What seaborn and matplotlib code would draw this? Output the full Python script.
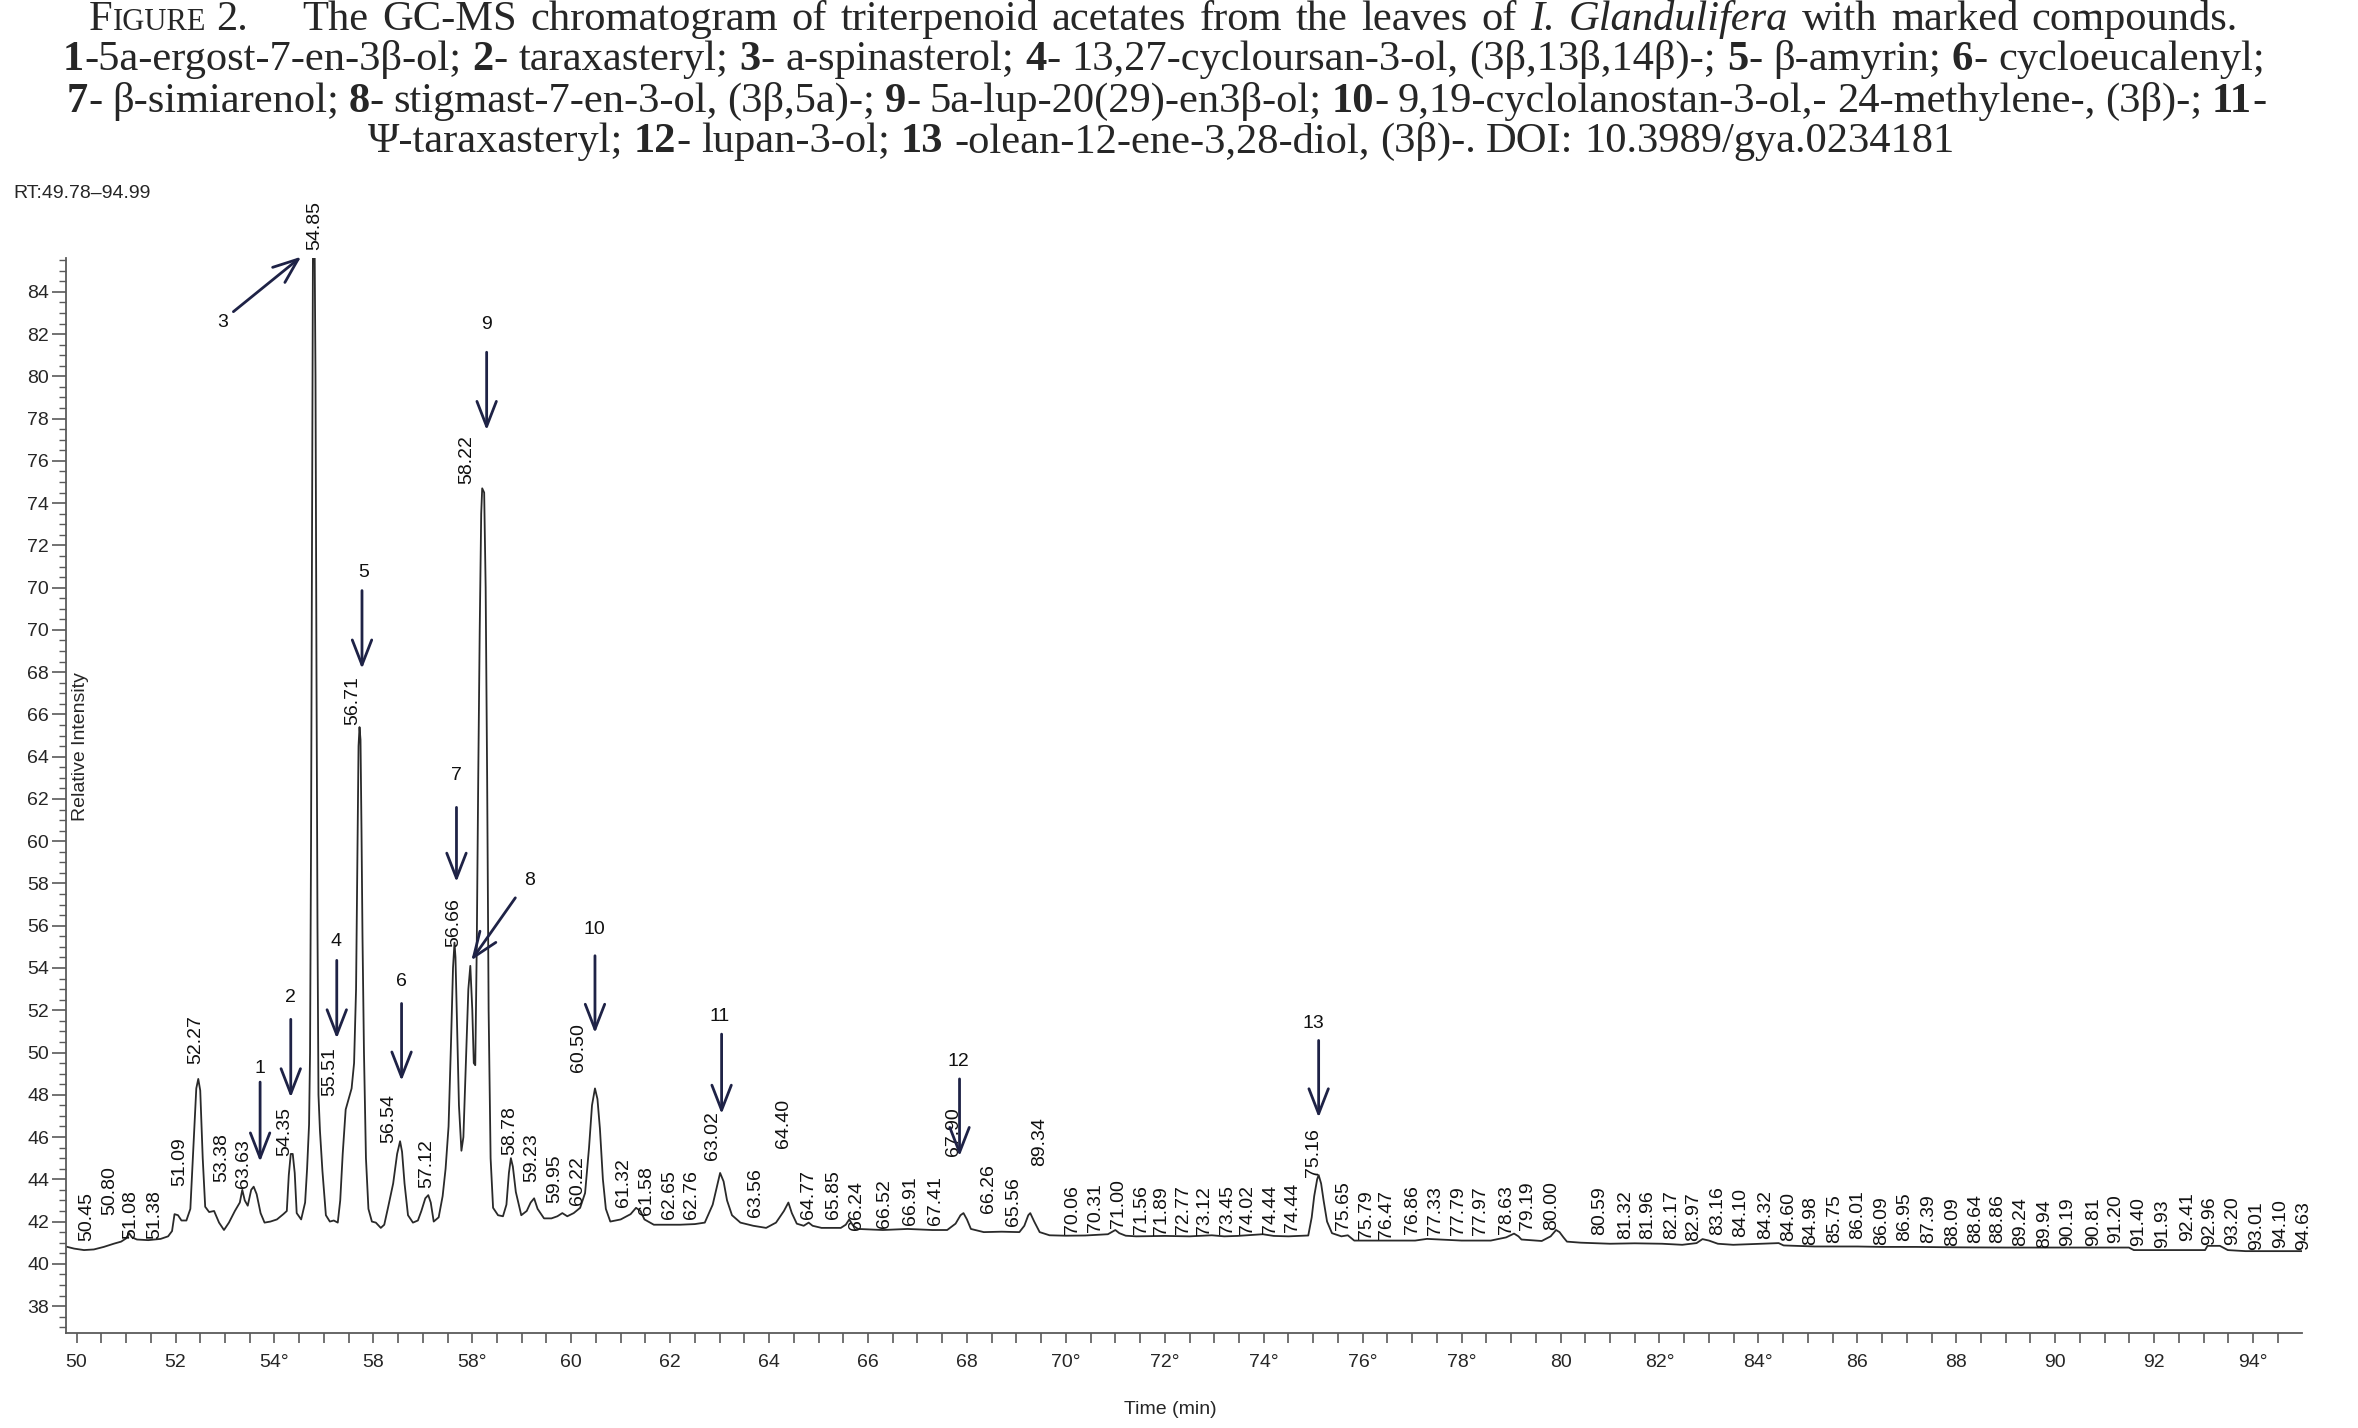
import re

import numpy as np
import pandas as pd
import seaborn as sns
import matplotlib.pyplot as plt
from matplotlib.ticker import MultipleLocator
from matplotlib.transforms import IdentityTransform

# chromatogram trace (x in axis minutes, y in axis units)
rt = [49.78, 49.95, 50.15, 50.35, 50.55, 50.75, 50.90, 51.00, 51.06, 51.12, 51.22, 51.45, 51.70,
      51.85, 51.93, 51.98, 52.05, 52.12, 52.22, 52.30, 52.36, 52.42, 52.46, 52.50, 52.55, 52.60,
      52.68, 52.78, 52.88, 52.98, 53.08, 53.20, 53.30, 53.35, 53.40, 53.46, 53.53, 53.58, 53.64,
      53.72, 53.80, 53.92, 54.05, 54.18, 54.25, 54.29, 54.33, 54.37, 54.41, 54.45, 54.54, 54.62,
      54.66, 54.70, 54.72, 54.74, 54.76, 54.78, 54.81, 54.83, 54.85, 54.87, 54.89, 54.92, 54.97,
      55.04, 55.12, 55.20, 55.28, 55.33, 55.38, 55.44, 55.50, 55.56, 55.61, 55.65, 55.68, 55.70,
      55.72, 55.74, 55.76, 55.78, 55.81, 55.85, 55.90, 55.97, 56.05, 56.15, 56.22, 56.30, 56.40,
      56.48, 56.54, 56.58, 56.63, 56.70, 56.80, 56.90, 56.97, 57.05, 57.11, 57.16, 57.22, 57.32,
      57.40, 57.46, 57.52, 57.57, 57.61, 57.64, 57.66, 57.69, 57.73, 57.78, 57.82, 57.87, 57.92,
      57.96, 58.00, 58.03, 58.06, 58.09, 58.12, 58.15, 58.18, 58.20, 58.24, 58.27, 58.30, 58.33,
      58.37, 58.42, 58.52, 58.62, 58.69, 58.74, 58.78, 58.82, 58.88, 58.99, 59.10, 59.18, 59.25,
      59.32, 59.45, 59.60, 59.72, 59.82, 59.92, 60.05, 60.18, 60.28, 60.36, 60.42, 60.48, 60.53,
      60.58, 60.64, 60.70, 60.79, 61.00, 61.20, 61.31, 61.40, 61.48, 61.67, 61.90, 62.20, 62.50,
      62.70, 62.86, 62.95, 63.01, 63.08, 63.15, 63.25, 63.42, 63.68, 63.94, 64.14, 64.30, 64.39,
      64.46, 64.56, 64.70, 64.80, 64.88, 65.06, 65.45, 65.55, 65.62, 65.70, 65.80, 66.30, 66.80,
      67.30, 67.60, 67.77, 67.87, 67.93, 68.00, 68.08, 68.34, 68.70, 69.06, 69.16, 69.24, 69.28,
      69.36, 69.47, 69.67, 70.00, 70.39, 70.85, 71.00, 71.08, 71.21, 71.42, 72.00, 72.50, 72.95,
      73.20, 73.47, 73.98, 74.20, 74.50, 74.90, 74.97, 75.02, 75.08, 75.11, 75.16, 75.21, 75.28,
      75.38, 75.57, 75.70, 75.83, 76.40, 77.06, 77.30, 77.57, 78.00, 78.59, 78.90, 79.06, 79.15,
      79.21, 79.62, 79.80, 79.91, 79.98, 80.06, 80.13, 80.41, 81.00, 81.50, 82.05, 82.46, 82.75,
      82.87, 83.00, 83.18, 83.49, 84.10, 84.41, 84.51, 85.13, 86.00, 86.50, 87.18, 88.00, 89.00,
      90.00, 91.00, 91.49, 91.59, 92.30, 93.03, 93.08, 93.33, 93.49, 93.85, 94.99]
intensity = [40.82, 40.72, 40.65, 40.68, 40.80, 40.95, 41.05, 41.20, 41.45, 41.25, 41.15, 41.12, 41.18,
             41.30, 41.55, 42.35, 42.30, 42.05, 42.05, 42.60, 45.50, 48.30, 48.75, 48.20, 45.00, 42.70,
             42.45, 42.50, 41.95, 41.60, 41.95, 42.50, 42.90, 43.50, 43.00, 42.75, 43.50, 43.65, 43.30,
             42.40, 41.95, 42.00, 42.10, 42.35, 42.50, 44.20, 45.20, 45.20, 44.30, 42.40, 42.10, 42.90,
             44.50, 46.60, 50.00, 60.00, 75.00, 89.00, 89.00, 82.00, 68.00, 56.00, 48.00, 46.30, 44.40,
             42.30, 42.00, 42.05, 41.95, 43.00, 45.20, 47.30, 47.80, 48.30, 49.50, 53.00, 60.00, 64.50,
             65.40, 64.80, 60.50, 55.50, 50.00, 45.00, 42.60, 42.00, 41.95, 41.70, 41.85, 42.70, 43.80,
             45.20, 45.80, 45.30, 43.80, 42.30, 41.95, 42.05, 42.50, 43.10, 43.25, 42.90, 42.00, 42.20,
             43.20, 44.50, 46.50, 50.50, 54.00, 55.20, 54.50, 51.50, 47.50, 45.35, 46.00, 49.50, 53.00,
             54.10, 52.00, 49.50, 49.40, 55.00, 63.00, 70.00, 75.50, 76.70, 76.50, 72.00, 63.00, 52.00,
             45.00, 42.65, 42.30, 42.25, 42.80, 44.30, 45.00, 44.60, 43.40, 42.30, 42.50, 42.90, 43.10,
             42.60, 42.15, 42.15, 42.25, 42.40, 42.25, 42.40, 42.65, 43.35, 45.50, 47.50, 48.30, 47.80,
             46.40, 44.00, 42.60, 42.00, 42.10, 42.35, 42.65, 42.50, 42.10, 41.85, 41.85, 41.85, 41.88,
             41.95, 42.80, 43.70, 44.30, 43.90, 43.00, 42.30, 41.95, 41.80, 41.70, 41.95, 42.50, 42.90,
             42.40, 41.90, 41.80, 41.95, 41.80, 41.70, 41.70, 41.85, 42.10, 41.80, 41.65, 41.60, 41.65,
             41.60, 41.60, 41.90, 42.30, 42.40, 42.10, 41.65, 41.50, 41.52, 41.50, 41.80, 42.30, 42.40,
             42.00, 41.50, 41.35, 41.33, 41.34, 41.40, 41.60, 41.45, 41.33, 41.30, 41.32, 41.30, 41.35,
             41.30, 41.32, 41.40, 41.32, 41.30, 41.34, 42.20, 43.20, 44.00, 44.20, 43.80, 43.00, 42.00,
             41.45, 41.30, 41.35, 41.10, 41.10, 41.10, 41.18, 41.15, 41.10, 41.10, 41.25, 41.43, 41.30,
             41.15, 41.08, 41.30, 41.60, 41.50, 41.25, 41.05, 41.00, 40.95, 40.97, 40.95, 40.90, 40.98,
             41.17, 41.10, 40.95, 40.90, 40.95, 40.98, 40.87, 40.82, 40.82, 40.80, 40.80, 40.78, 40.77,
             40.77, 40.77, 40.77, 40.65, 40.65, 40.65, 40.85, 40.85, 40.65, 40.60, 40.60]

# retention-time labels printed above the peaks
peak_text = ["50.45", "50.80", "51.08", "51.38", "51.09", "52.27", "53.38", "63.63", "54.35", "54.85",
             "55.51", "56.71", "56.54", "57.12", "56.66", "58.22", "58.78", "59.23", "59.95", "60.22",
             "60.50", "61.32", "61.58", "62.65", "62.76", "63.02", "63.56", "64.40", "64.77", "65.85",
             "66.24", "66.52", "66.91", "67.41", "67.90", "66.26", "65.56", "89.34", "70.06", "70.31",
             "71.00", "71.56", "71.89", "72.77", "73.12", "73.45", "74.02", "74.44", "74.44", "75.16",
             "75.65", "75.79", "76.47", "76.86", "77.33", "77.79", "77.97", "78.63", "79.19", "80.00",
             "80.59", "81.32", "81.96", "82.17", "82.97", "83.16", "84.10", "84.32", "84.60", "84.98",
             "85.75", "86.01", "86.09", "86.95", "87.39", "88.09", "88.64", "88.86", "89.24", "89.94",
             "90.19", "90.81", "91.20", "91.40", "91.93", "92.41", "92.96", "93.20", "93.01", "94.10",
             "94.63"]
peak_x = [50.21, 50.67, 51.10, 51.57, 52.08, 52.41, 52.93, 53.37, 54.20, 54.82,
          55.12, 55.58, 56.31, 57.08, 57.63, 57.89, 58.75, 59.20, 59.66, 60.12,
          60.14, 61.05, 61.52, 61.98, 62.44, 62.86, 63.73, 64.30, 64.80, 65.31,
          65.77, 66.34, 66.85, 67.36, 67.72, 68.44, 68.95, 69.47, 70.13, 70.59,
          71.06, 71.52, 71.93, 72.37, 72.80, 73.26, 73.67, 74.13, 74.59, 75.01,
          75.62, 76.08, 76.49, 77.01, 77.47, 77.93, 78.39, 78.90, 79.33, 79.83,
          80.80, 81.31, 81.76, 82.24, 82.69, 83.18, 83.64, 84.15, 84.62, 85.06,
          85.54, 86.00, 86.49, 86.95, 87.44, 87.92, 88.39, 88.84, 89.30, 89.79,
          90.26, 90.77, 91.23, 91.69, 92.17, 92.67, 93.13, 93.59, 94.07, 94.56,
          95.03]
peak_y = [41.08, 42.30, 41.17, 41.17, 43.70, 49.44, 43.87, 43.60, 45.10, 88.00,
          47.96, 65.50, 45.70, 43.60, 55.00, 76.90, 45.17, 43.87, 42.90, 42.80,
          49.10, 42.70, 42.30, 42.10, 42.10, 44.90, 42.20, 45.50, 42.10, 42.10,
          41.60, 41.69, 41.86, 41.86, 45.10, 42.40, 41.78, 44.65, 41.43, 41.50,
          41.69, 41.43, 41.34, 41.43, 41.34, 41.43, 41.43, 41.43, 41.50, 44.13,
          41.60, 41.17, 41.17, 41.43, 41.34, 41.34, 41.34, 41.43, 41.60, 41.60,
          41.34, 41.17, 41.17, 41.17, 41.08, 41.34, 41.25, 41.17, 41.08, 40.90,
          41.00, 41.17, 40.90, 41.08, 41.00, 40.82, 41.00, 41.00, 40.82, 40.73,
          40.82, 40.82, 41.00, 40.82, 40.73, 41.08, 40.90, 40.90, 40.64, 40.73,
          40.64]

# marked compounds: number position, arrow tail and arrow tip
cmp_id = ["1", "2", "3", "4", "5", "6", "7", "8", "9", "10", "11", "12", "13"]
cmp_x = [53.70, 54.32, 52.95, 55.25, 55.80, 56.57, 57.68, 59.16, 58.28, 60.46, 63.01, 67.83, 75.00]
cmp_y = [49.23, 52.58, 84.54, 55.23, 72.74, 53.36, 63.10, 58.15, 84.45, 55.84, 51.71, 49.58, 51.39]
tail_x = [53.71, 54.33, 53.17, 55.26, 55.77, 56.57, 57.68, 58.87, 58.29, 60.48, 63.04, 67.85, 75.11]
tail_y = [48.60, 51.57, 85.06, 54.36, 71.86, 52.32, 61.60, 57.32, 83.14, 54.58, 50.87, 48.75, 50.57]
tip_x = [53.71, 54.33, 54.54, 55.26, 55.77, 56.57, 57.68, 57.98, 58.29, 60.48, 63.04, 67.85, 75.11]
tip_y = [44.83, 47.87, 87.66, 50.66, 68.16, 48.66, 58.07, 54.36, 79.45, 50.92, 47.09, 45.09, 46.92]

x_tick_labels = ["50", "52", "54°", "58", "58°", "60", "62", "64", "66", "68", "70°", "72°",
                 "74°", "76°", "78°", "80", "82°", "84°", "86", "88", "90", "92", "94°"]
y_tick_labels = ["38", "40", "42", "44", "46", "48", "50", "52", "54", "56", "58", "60", "62",
                 "64", "66", "68", "70", "70", "72", "74", "76", "78", "80", "82", "84"]

caption = [
    [("F", "normal", "normal", 1.0), ("IGURE", "normal", "normal", 0.72),
     (" 2.      The GC-MS chromatogram of triterpenoid acetates from the leaves of ", "normal", "normal", 1.0),
     ("I. Glandulifera", "normal", "italic", 1.0), (" with marked compounds.", "normal", "normal", 1.0)],
    [("1", "bold", "normal", 1.0), ("-5a-ergost-7-en-3β-ol; ", "normal", "normal", 1.0),
     ("2", "bold", "normal", 1.0), ("- taraxasteryl; ", "normal", "normal", 1.0),
     ("3", "bold", "normal", 1.0), ("- a-spinasterol; ", "normal", "normal", 1.0),
     ("4", "bold", "normal", 1.0), ("- 13,27-cycloursan-3-ol, (3β,13β,14β)-; ", "normal", "normal", 1.0),
     ("5", "bold", "normal", 1.0), ("- β-amyrin; ", "normal", "normal", 1.0),
     ("6", "bold", "normal", 1.0), ("- cycloeucalenyl;", "normal", "normal", 1.0)],
    [("7", "bold", "normal", 1.0), ("- β-simiarenol; ", "normal", "normal", 1.0),
     ("8", "bold", "normal", 1.0), ("- stigmast-7-en-3-ol, (3β,5a)-; ", "normal", "normal", 1.0),
     ("9", "bold", "normal", 1.0), ("- 5a-lup-20(29)-en3β-ol; ", "normal", "normal", 1.0),
     ("10", "bold", "normal", 1.0), ("- 9,19-cyclolanostan-3-ol,- 24-methylene-, (3β)-; ", "normal", "normal", 1.0),
     ("11", "bold", "normal", 1.0), ("-", "normal", "normal", 1.0)],
    [("Ψ-taraxasteryl; ", "normal", "normal", 1.0), ("12", "bold", "normal", 1.0),
     ("- lupan-3-ol; ", "normal", "normal", 1.0), ("13", "bold", "normal", 1.0),
     (" -olean-12-ene-3,28-diol, (3β)-. DOI: 10.3989/gya.0234181", "normal", "normal", 1.0)],
]
# left edge, right edge (None = natural spacing), baseline from top, in pixels
caption_box = [(89, 2238, 30), (63, 2265, 70), (67, 2266, 112), (368, None, 152)]
heading_text_start = 302

sns.set_style("ticks")
plt.rcParams["font.family"] = ["Liberation Sans", "DejaVu Sans"]

W, H = 2358, 1428
fig = plt.figure(figsize=(W / 100, H / 100), dpi=100)
ax = fig.add_axes([65.7 / W, (H - 1332.7) / H, (2302 - 65.7) / W, (1332.7 - 258) / H])

trace = pd.DataFrame({"rt": rt, "intensity": intensity})
sns.lineplot(data=trace, x="rt", y="intensity", sort=False, estimator=None,
             color="#2a2a2a", linewidth=1.3, ax=ax)

ax.set_xlim(49.78, 94.99)
ax.set_ylim(36.74, 87.6)
ax.set_xlabel("")
ax.set_ylabel("")
sns.despine(ax=ax)
for side in ["left", "bottom"]:
    ax.spines[side].set_color("#5a5a5a")
    ax.spines[side].set_linewidth(1.3)

ax.set_xticks(np.arange(50, 95, 2))
ax.set_xticklabels(x_tick_labels)
ax.xaxis.set_minor_locator(MultipleLocator(0.5))
ax.set_yticks(np.arange(38, 87, 2))
ax.set_yticklabels(y_tick_labels)
ax.yaxis.set_minor_locator(MultipleLocator(0.5))
ax.tick_params(axis="x", which="both", direction="out", length=7, width=1.2,
               color="#5a5a5a", pad=8, labelsize=14)
ax.tick_params(axis="y", which="major", direction="out", length=10, width=1.2,
               color="#5a5a5a", pad=2, labelsize=14)
ax.tick_params(axis="y", which="minor", direction="out", length=5, width=1.0, color="#5a5a5a")

for s, x, y in zip(peak_text, peak_x, peak_y):
    ax.text(x, y, s, rotation=90, ha="center", va="bottom", fontsize=14,
            color="#111111", clip_on=False)

navy = "#1e2246"
for s, x, y, x0, y0, x1, y1 in zip(cmp_id, cmp_x, cmp_y, tail_x, tail_y, tip_x, tip_y):
    ax.text(x, y, s, ha="center", va="center", fontsize=14, color="#111111")
    ax.annotate("", xy=(x1, y1), xytext=(x0, y0), annotation_clip=False,
                arrowprops=dict(arrowstyle="->,head_length=0.9,head_width=0.35",
                                color=navy, lw=2.0, shrinkA=0, shrinkB=0, mutation_scale=20))

ax.text(50.07, 64.5, "Relative Intensity", rotation=90, ha="center", va="center", fontsize=14)
fig.text(1170 / W, 18 / H, "Time (min)", ha="center", va="center", fontsize=14)
fig.text(13 / W, 1 - 193 / H, "RT:49.78–94.99", ha="left", va="center", fontsize=14)

# caption in serif with bold numbers, small caps and italics, laid out word by word
renderer = fig.canvas.get_renderer()
serif = ["Liberation Serif", "DejaVu Serif"]


def advance(s, size, weight="normal", style="normal"):
    probe = fig.text(0, 0, "|" + s + "|", fontsize=size, family=serif, weight=weight, style=style)
    bar = fig.text(0, 0, "||", fontsize=size, family=serif, weight=weight, style=style)
    w = probe.get_window_extent(renderer).width - bar.get_window_extent(renderer).width
    probe.remove()
    bar.remove()
    return w


def tokens(parts):
    out = []
    for s, wt, st, k in parts:
        for piece in re.split(r"( +)", s):
            if piece == "":
                continue
            if piece.startswith(" "):
                out.append((None, len(piece)))
            else:
                out.append((piece, (wt, st, k)))
    return out


def natural_width(parts, size):
    return sum(advance(s, size * k, wt, st) for s, wt, st, k in parts)


def place(toks, left, right, top):
    # justify a run of words between left and right (natural spacing if right is None)
    words = sum(advance(t, cap_size * f[2], f[0], f[1]) for t, f in toks if t is not None)
    n_space = sum(f for t, f in toks if t is None)
    unit = space if right is None or n_space == 0 else ((right - left) - words) / n_space
    x = left
    for t, f in toks:
        if t is None:
            x += f * unit
            continue
        fig.text(x, H - top, t, transform=IdentityTransform(), fontsize=cap_size * f[2],
                 family=serif, weight=f[0], style=f[1], ha="left", va="baseline")
        x += advance(t, cap_size * f[2], f[0], f[1])


# font size chosen so the second line fills its measured width with plain spaces
cap_size = 25 * 2202 / natural_width(caption[1], 25)
space = advance(" ", cap_size)
for i, (parts, (left, right, top)) in enumerate(zip(caption, caption_box)):
    toks = tokens(parts)
    if i == 0:
        cut = next(j for j, (t, f) in enumerate(toks) if t is None and f > 2)
        place(toks[:cut], left, None, top)
        place(toks[cut + 1:], heading_text_start, right, top)
    else:
        place(toks, left, right, top)

fig.savefig("out.png", dpi=100)
